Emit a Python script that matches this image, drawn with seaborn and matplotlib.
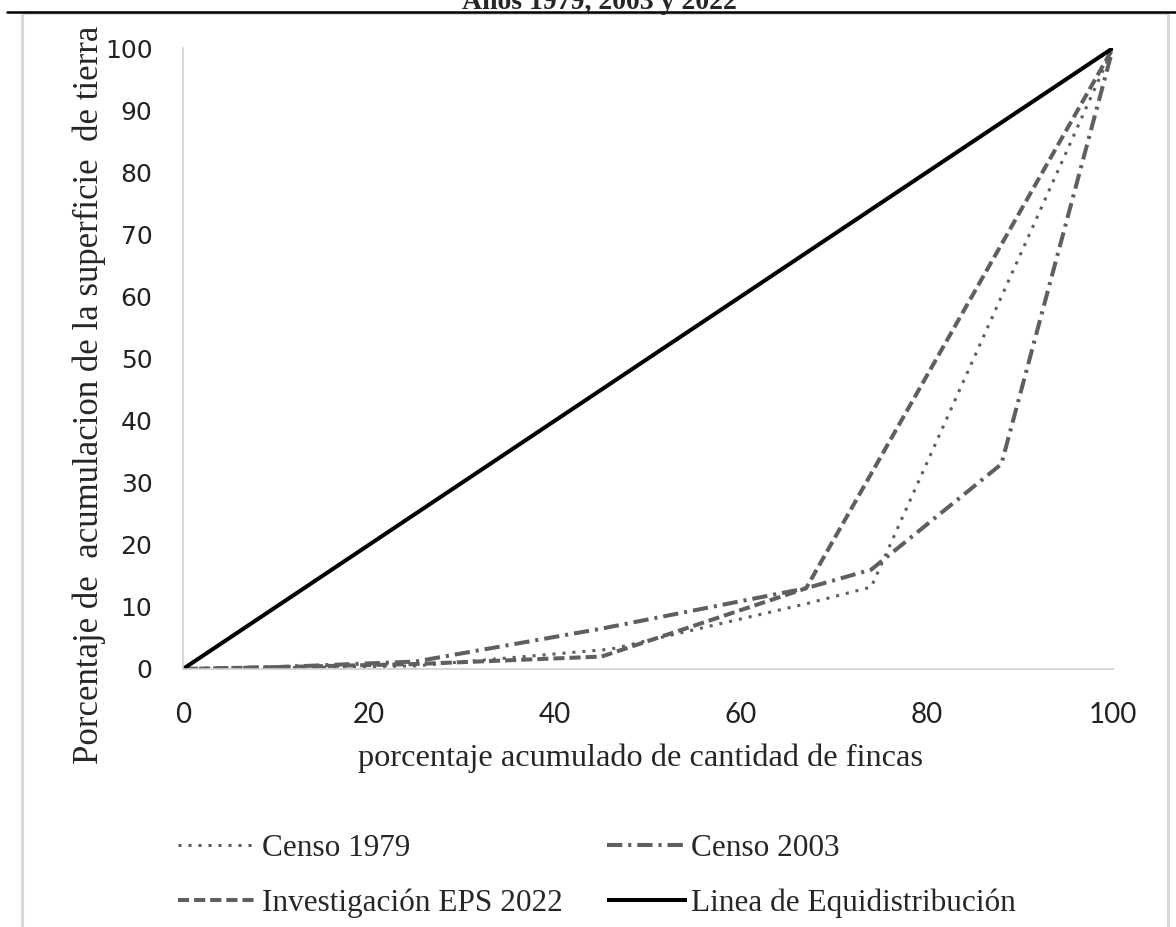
import matplotlib
matplotlib.use("Agg")
import matplotlib.pyplot as plt
import matplotlib.patches as patches
import numpy as np
import pandas as pd
import seaborn as sns

# datos (curvas de Lorenz)
x_1979 = [0, 25, 46, 67, 74, 100]
y_1979 = [0, 0.5, 3.2, 10.5, 13.2, 100]

x_2003 = [0, 10, 25, 45, 67, 74, 88, 100]
y_2003 = [0, 0.3, 1.2, 6.5, 13, 16, 33, 100]

x_2022 = [0, 10, 25, 45, 67, 100]
y_2022 = [0, 0.3, 0.8, 2, 13, 100]

x_equi = [0, 100]
y_equi = [0, 100]

labels = ["Censo 1979", "Censo 2003", "Investigación EPS 2022", "Linea de Equidistribución"]
ticks = [0, 20, 40, 60, 80, 100]
yticks = [0, 10, 20, 30, 40, 50, 60, 70, 80, 90, 100]

sns.set_style("white")
plt.rcParams["font.family"] = ["Liberation Serif", "DejaVu Serif"]
plt.rcParams["lines.scale_dashes"] = False

gray = "#5f5f5f"

fig = plt.figure(figsize=(11.76, 9.27), dpi=100)
ax = fig.add_axes([183/1176, 1 - 669/927, (1113-183)/1176, (669-48)/927])

df1 = pd.DataFrame({"x": x_1979, "y": y_1979})
df2 = pd.DataFrame({"x": x_2003, "y": y_2003})
df3 = pd.DataFrame({"x": x_2022, "y": y_2022})
df4 = pd.DataFrame({"x": x_equi, "y": y_equi})

sns.lineplot(data=df1, x="x", y="y", ax=ax, color=gray, lw=2.2,
             linestyle=(0, (2.2, 5.0)), label=labels[0], sort=False)
sns.lineplot(data=df2, x="x", y="y", ax=ax, color=gray, lw=2.9,
             linestyle=(0, (11, 4.3, 2.2, 4.3)), label=labels[1], sort=False)
sns.lineplot(data=df3, x="x", y="y", ax=ax, color=gray, lw=2.9,
             linestyle=(0, (8, 3.6)), label=labels[2], sort=False)
sns.lineplot(data=df4, x="x", y="y", ax=ax, color="black", lw=2.9,
             linestyle="-", label=labels[3], sort=False)

for line in ax.get_lines():
    line.set_dash_capstyle("butt")
    line.set_solid_capstyle("butt")

ax.set_xlim(0, 100)
ax.set_ylim(0, 100)
ax.set_xticks(ticks)
ax.set_yticks(yticks)
ax.tick_params(axis="both", length=0)
ax.tick_params(axis="y", pad=22)
ax.tick_params(axis="x", pad=24)
for t in ax.get_yticklabels():
    t.set_fontfamily("DejaVu Sans")
    t.set_fontsize(18)
    t.set_color("#222222")
for t in ax.get_xticklabels():
    t.set_fontfamily("Lato")
    t.set_fontsize(20)
    t.set_color("#222222")

for s in ["top", "right"]:
    ax.spines[s].set_visible(False)
for s in ["left", "bottom"]:
    ax.spines[s].set_color("#d0d0d0")
    ax.spines[s].set_linewidth(1.2)

ax.set_xlabel("")
ax.set_ylabel("")
fig.text(640/1176, 1 - 758/927, "porcentaje acumulado de cantidad de fincas",
         ha="center", va="center", fontsize=23.3)
fig.text(89/1176, 1 - 395/927, "Porcentaje de  acumulacion de la superficie  de tierra",
         ha="center", va="center", rotation=90, fontsize=25)

# titulo cortado arriba
fig.text(599/1176, 1 - 9/927, "Años 1979, 2003 y 2022", ha="center",
         va="baseline", fontsize=20, fontweight="bold")

ax.get_legend().remove()
lines = ax.get_lines()
# orden por columnas para que las filas queden como en el original
order = [0, 2, 1, 3]
fig.legend([lines[i] for i in order], [labels[i] for i in order], ncol=2,
           loc="upper left", bbox_to_anchor=(178/1176, 1 - 834/927), frameon=False,
           fontsize=22.5, handlelength=2.56, handletextpad=0.13,
           columnspacing=1.4, labelspacing=0.8, borderpad=0, borderaxespad=0)

# marco gris y linea negra superior
fig.patches.append(patches.Rectangle((22/1176, -0.05), (1168-22)/1176, 1.05 - 13/927,
                                     transform=fig.transFigure, fill=False,
                                     edgecolor="#d9d9d9", lw=2.2, zorder=-1))
fig.lines.append(plt.Line2D([7/1176, 1.0], [1 - 12/927, 1 - 12/927],
                            transform=fig.transFigure, color="black", lw=1.8))

fig.savefig("out.png", dpi=100)
